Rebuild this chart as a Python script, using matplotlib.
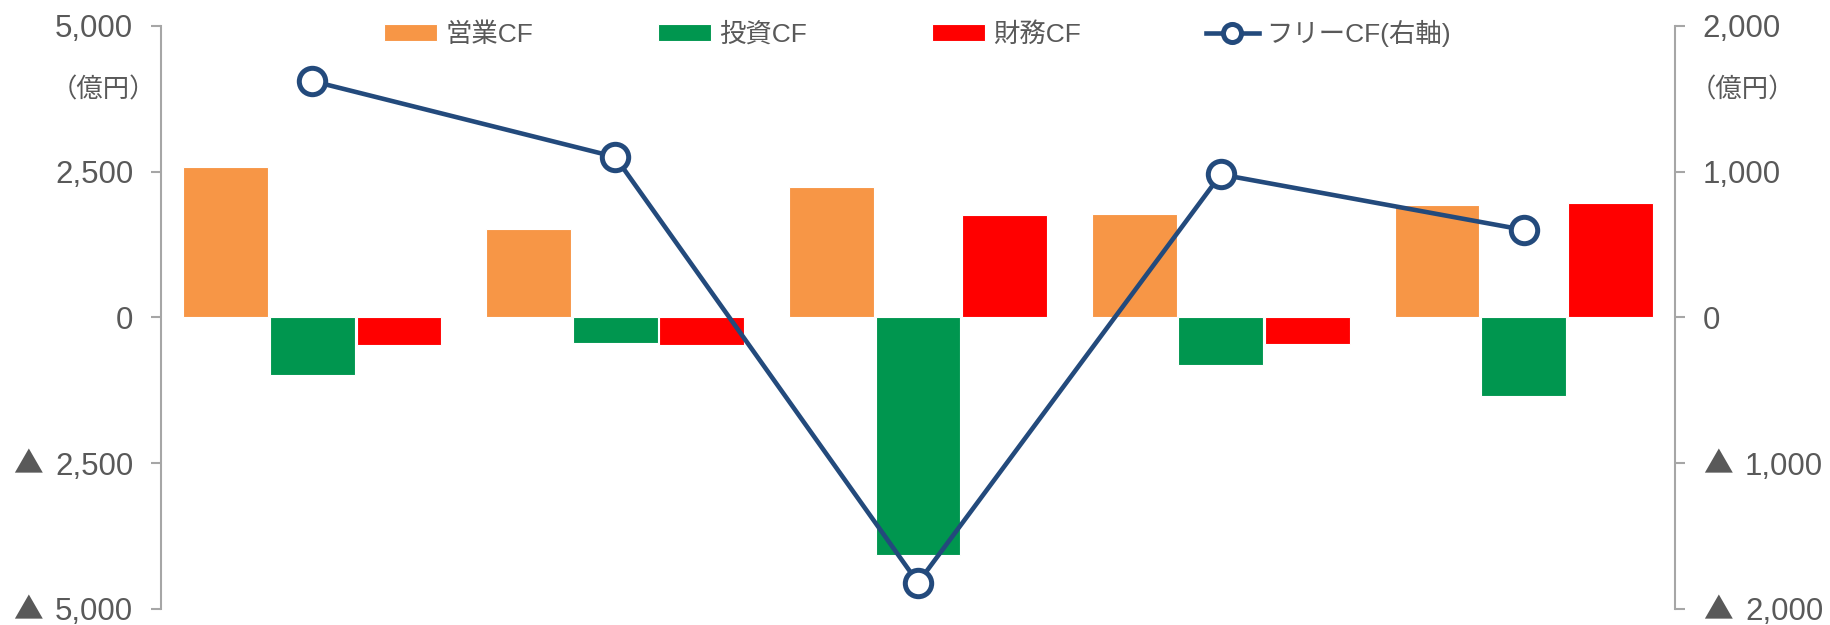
import matplotlib
matplotlib.use("Agg")
import matplotlib.pyplot as plt
import matplotlib.transforms as mtransforms
from matplotlib.ticker import FixedLocator, FuncFormatter
import numpy as np

plt.rcParams['font.family'] = ['Liberation Sans', 'Noto Sans CJK JP', 'DejaVu Sans']

# data (億円)
periods = ['P1', 'P2', 'P3', 'P4', 'P5']
operating_cf = [2580, 1520, 2240, 1780, 1920]
investing_cf = [-980, -440, -4080, -820, -1340]
financing_cf = [-480, -480, 1760, -460, 1960]
free_cf = [1620, 1100, -1820, 980, 600]

series_names = ['営業CF', '投資CF', '財務CF']
line_name = 'フリーCF(右軸)'
left_ticks = [-5000, -2500, 0, 2500, 5000]
right_ticks = [-2000, -1000, 0, 1000, 2000]

text_color = '#595959'
axis_color = '#A6A6A6'
colors = ['#F79646', '#00964F', '#FF0000']
line_color = '#234A7C'
tick_size = 22.5


def fmt_left(v, pos):
    return '{:,.0f}'.format(abs(v))


def fmt_right(v, pos):
    # negatives on the right axis are drawn separately (▲ + number)
    if v < 0:
        return ''
    return '{:,.0f}'.format(v)


fig = plt.figure(figsize=(18.3, 6.25), dpi=100)
ax = fig.add_axes([0.088, 0.0256, 0.8273, 0.9333])
ax2 = ax.twinx()

x = np.arange(len(periods))
w = 0.28
step = 0.286
for i, (vals, c, name) in enumerate(zip([operating_cf, investing_cf, financing_cf], colors, series_names)):
    ax.bar(x + (i - 1) * step, vals, width=w, color=c, edgecolor='white', linewidth=0.8, label=name)

ax2.plot(x, free_cf, color=line_color, linewidth=3.3, marker='o', markersize=19,
         markerfacecolor='white', markeredgecolor=line_color, markeredgewidth=3.6,
         label=line_name)

ax.set_xlim(-0.5, len(periods) - 0.5)
ax.set_ylim(-5000, 5000)
ax2.set_ylim(-2000, 2000)
ax.yaxis.set_major_locator(FixedLocator(left_ticks))
ax2.yaxis.set_major_locator(FixedLocator(right_ticks))
ax.yaxis.set_major_formatter(FuncFormatter(fmt_left))
ax2.yaxis.set_major_formatter(FuncFormatter(fmt_right))
ax.set_xticks([])

for a in (ax, ax2):
    for s in ['top', 'bottom']:
        a.spines[s].set_visible(False)
    a.tick_params(axis='y', colors=axis_color, labelcolor=text_color, labelsize=tick_size,
                  length=7, width=1.5, pad=13)
ax.spines['right'].set_visible(False)
ax2.spines['left'].set_visible(False)
ax.spines['left'].set_color(axis_color)
ax.spines['left'].set_linewidth(1.5)
ax2.spines['right'].set_color(axis_color)
ax2.spines['right'].set_linewidth(1.5)

# ▲ marks for negative tick labels
for a, ticks, xa, dx in [(ax, left_ticks, 0, -133), (ax2, right_ticks, 1, 43)]:
    tr = mtransforms.blended_transform_factory(a.transAxes, a.transData)
    for t in ticks:
        if t < 0:
            a.annotate('▲', xy=(xa, t), xycoords=tr, xytext=(dx, -2), textcoords='offset pixels',
                       ha='center', va='center', fontsize=tick_size * 0.95, color=text_color,
                       family='Noto Sans CJK JP', annotation_clip=False)
            if a is ax2:
                a.annotate('{:,.0f}'.format(-t), xy=(xa, t), xycoords=tr, xytext=(70, 0),
                           textcoords='offset pixels', ha='left', va='center_baseline',
                           fontsize=tick_size, color=text_color, annotation_clip=False)

fig.text(0.0563, 0.856, '（億円）', ha='center', va='center', fontsize=19, color=text_color,
         family='Noto Sans CJK JP')
fig.text(0.952, 0.856, '（億円）', ha='center', va='center', fontsize=19, color=text_color,
         family='Noto Sans CJK JP')

h1, l1 = ax.get_legend_handles_labels()
h2, l2 = ax2.get_legend_handles_labels()
leg = fig.legend(h1 + h2, l1 + l2, loc='center', bbox_to_anchor=(0.5015, 0.947), ncol=4,
                 frameon=False, fontsize=19, labelcolor=text_color, handlelength=2.0,
                 handleheight=0.6, columnspacing=4.75, handletextpad=0.3)
leg.legend_handles[3].set_markersize(13)

fig.savefig('out.png', dpi=100)
